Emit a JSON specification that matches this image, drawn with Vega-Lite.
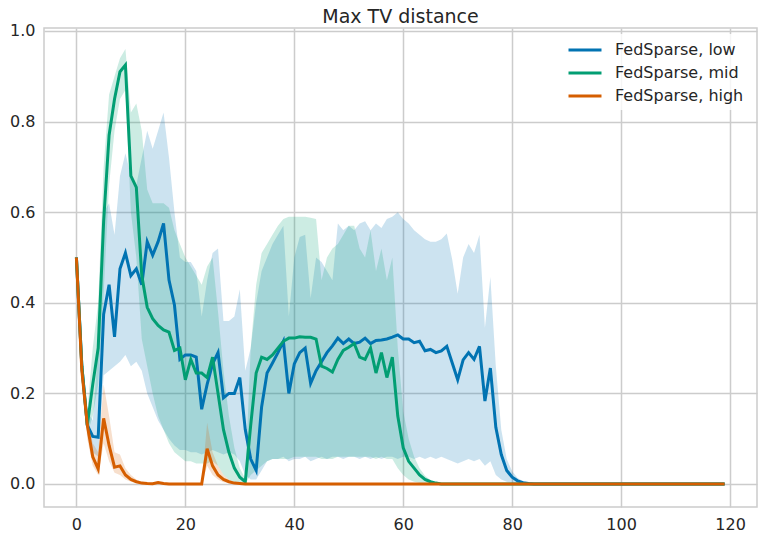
{
"$schema": "https://vega.github.io/schema/vega-lite/v6.json",
"width": 713, "height": 479,
"autosize": "none",
"padding": {"left": 44, "top": 28, "right": 8, "bottom": 32},
"background": "white",
"title": {"text": "Max TV distance", "fontSize": 19, "font": "DejaVu Sans", "fontWeight": "normal", "color": "#262626", "offset": 6, "dy": 10},
"config": {
  "font": "DejaVu Sans",
  "view": {"stroke": "#cccccc", "strokeWidth": 1.5},
  "axis": {"grid": true, "gridColor": "#cccccc", "gridWidth": 1.5, "domain": false, "ticks": false, "labelFontSize": 16, "labelColor": "#262626", "labelPadding": 9, "title": null, "labelFont": "DejaVu Sans"}
},
"data": {"values": [
{"x":0,"lm":0.5,"ll":0.5,"lh":0.5,"mm":0.5,"ml":0.5,"mh":0.5,"hm":0.5,"hl":0.5,"hh":0.5},
{"x":1,"lm":0.26,"ll":0.24,"lh":0.28,"mm":0.26,"ml":0.24,"mh":0.28,"hm":0.25,"hl":0.23,"hh":0.27},
{"x":2,"lm":0.13,"ll":0.11,"lh":0.16,"mm":0.13,"ml":0.11,"mh":0.16,"hm":0.13,"hl":0.1,"hh":0.15},
{"x":3,"lm":0.105,"ll":0.07,"lh":0.14,"mm":0.22,"ml":0.15,"mh":0.3,"hm":0.06,"hl":0.04,"hh":0.09},
{"x":4,"lm":0.103,"ll":0.06,"lh":0.3,"mm":0.3,"ml":0.22,"mh":0.4,"hm":0.033,"hl":0.02,"hh":0.07},
{"x":5,"lm":0.375,"ll":0.24,"lh":0.6,"mm":0.58,"ml":0.42,"mh":0.7,"hm":0.145,"hl":0.09,"hh":0.22},
{"x":6,"lm":0.44,"ll":0.25,"lh":0.62,"mm":0.77,"ml":0.66,"mh":0.86,"hm":0.085,"hl":0.05,"hh":0.15},
{"x":7,"lm":0.325,"ll":0.26,"lh":0.55,"mm":0.85,"ml":0.78,"mh":0.9,"hm":0.037,"hl":0.025,"hh":0.07},
{"x":8,"lm":0.475,"ll":0.27,"lh":0.68,"mm":0.91,"ml":0.85,"mh":0.94,"hm":0.04,"hl":0.02,"hh":0.065},
{"x":9,"lm":0.51,"ll":0.285,"lh":0.73,"mm":0.925,"ml":0.87,"mh":0.96,"hm":0.02,"hl":0.01,"hh":0.035},
{"x":10,"lm":0.46,"ll":0.26,"lh":0.68,"mm":0.68,"ml":0.6,"mh":0.82,"hm":0.01,"hl":0.005,"hh":0.02},
{"x":11,"lm":0.475,"ll":0.27,"lh":0.66,"mm":0.655,"ml":0.5,"mh":0.84,"hm":0.005,"hl":0.002,"hh":0.01},
{"x":12,"lm":0.44,"ll":0.25,"lh":0.72,"mm":0.46,"ml":0.32,"mh":0.78,"hm":0.002,"hl":0.001,"hh":0.005},
{"x":13,"lm":0.535,"ll":0.2,"lh":0.78,"mm":0.39,"ml":0.26,"mh":0.65,"hm":0.001,"hl":0,"hh":0.002},
{"x":14,"lm":0.505,"ll":0.17,"lh":0.74,"mm":0.365,"ml":0.2,"mh":0.62,"hm":0.0005,"hl":0,"hh":0.001},
{"x":15,"lm":0.535,"ll":0.14,"lh":0.78,"mm":0.35,"ml":0.15,"mh":0.62,"hm":0.003,"hl":0,"hh":0.006},
{"x":16,"lm":0.575,"ll":0.12,"lh":0.82,"mm":0.34,"ml":0.12,"mh":0.62,"hm":0.001,"hl":0,"hh":0.002},
{"x":17,"lm":0.45,"ll":0.1,"lh":0.72,"mm":0.335,"ml":0.09,"mh":0.61,"hm":0,"hl":0,"hh":0},
{"x":18,"lm":0.395,"ll":0.085,"lh":0.6,"mm":0.295,"ml":0.07,"mh":0.56,"hm":0,"hl":0,"hh":0},
{"x":19,"lm":0.275,"ll":0.075,"lh":0.5,"mm":0.3,"ml":0.06,"mh":0.53,"hm":0,"hl":0,"hh":0},
{"x":20,"lm":0.285,"ll":0.075,"lh":0.49,"mm":0.23,"ml":0.05,"mh":0.5,"hm":0,"hl":0,"hh":0},
{"x":21,"lm":0.285,"ll":0.07,"lh":0.49,"mm":0.275,"ml":0.05,"mh":0.48,"hm":0,"hl":0,"hh":0},
{"x":22,"lm":0.28,"ll":0.07,"lh":0.47,"mm":0.245,"ml":0.045,"mh":0.46,"hm":0,"hl":0,"hh":0},
{"x":23,"lm":0.165,"ll":0.065,"lh":0.37,"mm":0.245,"ml":0.045,"mh":0.44,"hm":0,"hl":0,"hh":0},
{"x":24,"lm":0.22,"ll":0.07,"lh":0.45,"mm":0.235,"ml":0.045,"mh":0.48,"hm":0.078,"hl":0.04,"hh":0.135},
{"x":25,"lm":0.265,"ll":0.075,"lh":0.51,"mm":0.28,"ml":0.05,"mh":0.5,"hm":0.04,"hl":0.02,"hh":0.07},
{"x":26,"lm":0.29,"ll":0.07,"lh":0.52,"mm":0.2,"ml":0.04,"mh":0.38,"hm":0.02,"hl":0.01,"hh":0.04},
{"x":27,"lm":0.19,"ll":0.065,"lh":0.36,"mm":0.12,"ml":0.02,"mh":0.25,"hm":0.01,"hl":0.004,"hh":0.02},
{"x":28,"lm":0.2,"ll":0.07,"lh":0.36,"mm":0.07,"ml":0.01,"mh":0.15,"hm":0.005,"hl":0.002,"hh":0.01},
{"x":29,"lm":0.2,"ll":0.065,"lh":0.37,"mm":0.035,"ml":0.004,"mh":0.08,"hm":0.002,"hl":0,"hh":0.004},
{"x":30,"lm":0.235,"ll":0.05,"lh":0.43,"mm":0.015,"ml":0.001,"mh":0.035,"hm":0.001,"hl":0,"hh":0.002},
{"x":31,"lm":0.12,"ll":0.02,"lh":0.25,"mm":0.005,"ml":0,"mh":0.012,"hm":0,"hl":0,"hh":0},
{"x":32,"lm":0.055,"ll":0.01,"lh":0.3,"mm":0.13,"ml":0.02,"mh":0.3,"hm":0,"hl":0,"hh":0},
{"x":33,"lm":0.03,"ll":0.01,"lh":0.4,"mm":0.245,"ml":0.03,"mh":0.44,"hm":0,"hl":0,"hh":0},
{"x":34,"lm":0.17,"ll":0.03,"lh":0.47,"mm":0.28,"ml":0.04,"mh":0.51,"hm":0,"hl":0,"hh":0},
{"x":35,"lm":0.245,"ll":0.05,"lh":0.5,"mm":0.275,"ml":0.05,"mh":0.53,"hm":0,"hl":0,"hh":0},
{"x":36,"lm":0.267,"ll":0.055,"lh":0.53,"mm":0.285,"ml":0.055,"mh":0.55,"hm":0,"hl":0,"hh":0},
{"x":37,"lm":0.29,"ll":0.055,"lh":0.55,"mm":0.3,"ml":0.055,"mh":0.57,"hm":0,"hl":0,"hh":0},
{"x":38,"lm":0.315,"ll":0.06,"lh":0.57,"mm":0.315,"ml":0.055,"mh":0.585,"hm":0,"hl":0,"hh":0},
{"x":39,"lm":0.2,"ll":0.05,"lh":0.37,"mm":0.322,"ml":0.055,"mh":0.59,"hm":0,"hl":0,"hh":0},
{"x":40,"lm":0.265,"ll":0.055,"lh":0.5,"mm":0.322,"ml":0.06,"mh":0.59,"hm":0,"hl":0,"hh":0},
{"x":41,"lm":0.29,"ll":0.055,"lh":0.545,"mm":0.325,"ml":0.06,"mh":0.59,"hm":0,"hl":0,"hh":0},
{"x":42,"lm":0.3,"ll":0.06,"lh":0.55,"mm":0.324,"ml":0.06,"mh":0.59,"hm":0,"hl":0,"hh":0},
{"x":43,"lm":0.222,"ll":0.05,"lh":0.41,"mm":0.324,"ml":0.06,"mh":0.588,"hm":0,"hl":0,"hh":0},
{"x":44,"lm":0.25,"ll":0.055,"lh":0.5,"mm":0.32,"ml":0.06,"mh":0.585,"hm":0,"hl":0,"hh":0},
{"x":45,"lm":0.27,"ll":0.06,"lh":0.49,"mm":0.26,"ml":0.055,"mh":0.45,"hm":0,"hl":0,"hh":0},
{"x":46,"lm":0.29,"ll":0.055,"lh":0.47,"mm":0.255,"ml":0.055,"mh":0.5,"hm":0,"hl":0,"hh":0},
{"x":47,"lm":0.305,"ll":0.06,"lh":0.45,"mm":0.247,"ml":0.055,"mh":0.52,"hm":0,"hl":0,"hh":0},
{"x":48,"lm":0.322,"ll":0.06,"lh":0.575,"mm":0.275,"ml":0.06,"mh":0.53,"hm":0,"hl":0,"hh":0},
{"x":49,"lm":0.31,"ll":0.055,"lh":0.56,"mm":0.295,"ml":0.06,"mh":0.55,"hm":0,"hl":0,"hh":0},
{"x":50,"lm":0.32,"ll":0.06,"lh":0.57,"mm":0.302,"ml":0.06,"mh":0.57,"hm":0,"hl":0,"hh":0},
{"x":51,"lm":0.31,"ll":0.06,"lh":0.56,"mm":0.31,"ml":0.06,"mh":0.57,"hm":0,"hl":0,"hh":0},
{"x":52,"lm":0.313,"ll":0.055,"lh":0.575,"mm":0.28,"ml":0.06,"mh":0.52,"hm":0,"hl":0,"hh":0},
{"x":53,"lm":0.322,"ll":0.06,"lh":0.58,"mm":0.275,"ml":0.06,"mh":0.5,"hm":0,"hl":0,"hh":0},
{"x":54,"lm":0.31,"ll":0.055,"lh":0.56,"mm":0.3,"ml":0.06,"mh":0.56,"hm":0,"hl":0,"hh":0},
{"x":55,"lm":0.317,"ll":0.06,"lh":0.575,"mm":0.245,"ml":0.055,"mh":0.47,"hm":0,"hl":0,"hh":0},
{"x":56,"lm":0.318,"ll":0.055,"lh":0.565,"mm":0.29,"ml":0.06,"mh":0.52,"hm":0,"hl":0,"hh":0},
{"x":57,"lm":0.32,"ll":0.06,"lh":0.585,"mm":0.235,"ml":0.055,"mh":0.45,"hm":0,"hl":0,"hh":0},
{"x":58,"lm":0.324,"ll":0.06,"lh":0.59,"mm":0.28,"ml":0.055,"mh":0.5,"hm":0,"hl":0,"hh":0},
{"x":59,"lm":0.329,"ll":0.055,"lh":0.6,"mm":0.15,"ml":0.035,"mh":0.3,"hm":0,"hl":0,"hh":0},
{"x":60,"lm":0.32,"ll":0.06,"lh":0.585,"mm":0.08,"ml":0.02,"mh":0.16,"hm":0,"hl":0,"hh":0},
{"x":61,"lm":0.32,"ll":0.06,"lh":0.575,"mm":0.05,"ml":0.01,"mh":0.1,"hm":0,"hl":0,"hh":0},
{"x":62,"lm":0.312,"ll":0.055,"lh":0.56,"mm":0.035,"ml":0.005,"mh":0.06,"hm":0,"hl":0,"hh":0},
{"x":63,"lm":0.315,"ll":0.06,"lh":0.55,"mm":0.02,"ml":0.002,"mh":0.035,"hm":0,"hl":0,"hh":0},
{"x":64,"lm":0.294,"ll":0.055,"lh":0.54,"mm":0.01,"ml":0.001,"mh":0.018,"hm":0,"hl":0,"hh":0},
{"x":65,"lm":0.297,"ll":0.06,"lh":0.535,"mm":0.005,"ml":0,"mh":0.009,"hm":0,"hl":0,"hh":0},
{"x":66,"lm":0.29,"ll":0.055,"lh":0.535,"mm":0.002,"ml":0,"mh":0.004,"hm":0,"hl":0,"hh":0},
{"x":67,"lm":0.294,"ll":0.06,"lh":0.54,"mm":0,"ml":0,"mh":0,"hm":0,"hl":0,"hh":0},
{"x":68,"lm":0.304,"ll":0.055,"lh":0.553,"mm":0,"ml":0,"mh":0,"hm":0,"hl":0,"hh":0},
{"x":69,"lm":0.267,"ll":0.05,"lh":0.495,"mm":0,"ml":0,"mh":0,"hm":0,"hl":0,"hh":0},
{"x":70,"lm":0.23,"ll":0.045,"lh":0.42,"mm":0,"ml":0,"mh":0,"hm":0,"hl":0,"hh":0},
{"x":71,"lm":0.274,"ll":0.05,"lh":0.5,"mm":0,"ml":0,"mh":0,"hm":0,"hl":0,"hh":0},
{"x":72,"lm":0.29,"ll":0.055,"lh":0.53,"mm":0,"ml":0,"mh":0,"hm":0,"hl":0,"hh":0},
{"x":73,"lm":0.275,"ll":0.05,"lh":0.51,"mm":0,"ml":0,"mh":0,"hm":0,"hl":0,"hh":0},
{"x":74,"lm":0.304,"ll":0.055,"lh":0.55,"mm":0,"ml":0,"mh":0,"hm":0,"hl":0,"hh":0},
{"x":75,"lm":0.183,"ll":0.04,"lh":0.345,"mm":0,"ml":0,"mh":0,"hm":0,"hl":0,"hh":0},
{"x":76,"lm":0.256,"ll":0.05,"lh":0.457,"mm":0,"ml":0,"mh":0,"hm":0,"hl":0,"hh":0},
{"x":77,"lm":0.125,"ll":0.02,"lh":0.26,"mm":0,"ml":0,"mh":0,"hm":0,"hl":0,"hh":0},
{"x":78,"lm":0.065,"ll":0.01,"lh":0.12,"mm":0,"ml":0,"mh":0,"hm":0,"hl":0,"hh":0},
{"x":79,"lm":0.03,"ll":0.005,"lh":0.055,"mm":0,"ml":0,"mh":0,"hm":0,"hl":0,"hh":0},
{"x":80,"lm":0.015,"ll":0.002,"lh":0.028,"mm":0,"ml":0,"mh":0,"hm":0,"hl":0,"hh":0},
{"x":81,"lm":0.007,"ll":0.001,"lh":0.013,"mm":0,"ml":0,"mh":0,"hm":0,"hl":0,"hh":0},
{"x":82,"lm":0.003,"ll":0,"lh":0.006,"mm":0,"ml":0,"mh":0,"hm":0,"hl":0,"hh":0},
{"x":83,"lm":0.001,"ll":0,"lh":0.002,"mm":0,"ml":0,"mh":0,"hm":0,"hl":0,"hh":0},
{"x":84,"lm":0,"ll":0,"lh":0,"mm":0,"ml":0,"mh":0,"hm":0,"hl":0,"hh":0},
{"x":85,"lm":0,"ll":0,"lh":0,"mm":0,"ml":0,"mh":0,"hm":0,"hl":0,"hh":0},
{"x":86,"lm":0,"ll":0,"lh":0,"mm":0,"ml":0,"mh":0,"hm":0,"hl":0,"hh":0},
{"x":87,"lm":0,"ll":0,"lh":0,"mm":0,"ml":0,"mh":0,"hm":0,"hl":0,"hh":0},
{"x":88,"lm":0,"ll":0,"lh":0,"mm":0,"ml":0,"mh":0,"hm":0,"hl":0,"hh":0},
{"x":89,"lm":0,"ll":0,"lh":0,"mm":0,"ml":0,"mh":0,"hm":0,"hl":0,"hh":0},
{"x":90,"lm":0,"ll":0,"lh":0,"mm":0,"ml":0,"mh":0,"hm":0,"hl":0,"hh":0},
{"x":91,"lm":0,"ll":0,"lh":0,"mm":0,"ml":0,"mh":0,"hm":0,"hl":0,"hh":0},
{"x":92,"lm":0,"ll":0,"lh":0,"mm":0,"ml":0,"mh":0,"hm":0,"hl":0,"hh":0},
{"x":93,"lm":0,"ll":0,"lh":0,"mm":0,"ml":0,"mh":0,"hm":0,"hl":0,"hh":0},
{"x":94,"lm":0,"ll":0,"lh":0,"mm":0,"ml":0,"mh":0,"hm":0,"hl":0,"hh":0},
{"x":95,"lm":0,"ll":0,"lh":0,"mm":0,"ml":0,"mh":0,"hm":0,"hl":0,"hh":0},
{"x":96,"lm":0,"ll":0,"lh":0,"mm":0,"ml":0,"mh":0,"hm":0,"hl":0,"hh":0},
{"x":97,"lm":0,"ll":0,"lh":0,"mm":0,"ml":0,"mh":0,"hm":0,"hl":0,"hh":0},
{"x":98,"lm":0,"ll":0,"lh":0,"mm":0,"ml":0,"mh":0,"hm":0,"hl":0,"hh":0},
{"x":99,"lm":0,"ll":0,"lh":0,"mm":0,"ml":0,"mh":0,"hm":0,"hl":0,"hh":0},
{"x":100,"lm":0,"ll":0,"lh":0,"mm":0,"ml":0,"mh":0,"hm":0,"hl":0,"hh":0},
{"x":101,"lm":0,"ll":0,"lh":0,"mm":0,"ml":0,"mh":0,"hm":0,"hl":0,"hh":0},
{"x":102,"lm":0,"ll":0,"lh":0,"mm":0,"ml":0,"mh":0,"hm":0,"hl":0,"hh":0},
{"x":103,"lm":0,"ll":0,"lh":0,"mm":0,"ml":0,"mh":0,"hm":0,"hl":0,"hh":0},
{"x":104,"lm":0,"ll":0,"lh":0,"mm":0,"ml":0,"mh":0,"hm":0,"hl":0,"hh":0},
{"x":105,"lm":0,"ll":0,"lh":0,"mm":0,"ml":0,"mh":0,"hm":0,"hl":0,"hh":0},
{"x":106,"lm":0,"ll":0,"lh":0,"mm":0,"ml":0,"mh":0,"hm":0,"hl":0,"hh":0},
{"x":107,"lm":0,"ll":0,"lh":0,"mm":0,"ml":0,"mh":0,"hm":0,"hl":0,"hh":0},
{"x":108,"lm":0,"ll":0,"lh":0,"mm":0,"ml":0,"mh":0,"hm":0,"hl":0,"hh":0},
{"x":109,"lm":0,"ll":0,"lh":0,"mm":0,"ml":0,"mh":0,"hm":0,"hl":0,"hh":0},
{"x":110,"lm":0,"ll":0,"lh":0,"mm":0,"ml":0,"mh":0,"hm":0,"hl":0,"hh":0},
{"x":111,"lm":0,"ll":0,"lh":0,"mm":0,"ml":0,"mh":0,"hm":0,"hl":0,"hh":0},
{"x":112,"lm":0,"ll":0,"lh":0,"mm":0,"ml":0,"mh":0,"hm":0,"hl":0,"hh":0},
{"x":113,"lm":0,"ll":0,"lh":0,"mm":0,"ml":0,"mh":0,"hm":0,"hl":0,"hh":0},
{"x":114,"lm":0,"ll":0,"lh":0,"mm":0,"ml":0,"mh":0,"hm":0,"hl":0,"hh":0},
{"x":115,"lm":0,"ll":0,"lh":0,"mm":0,"ml":0,"mh":0,"hm":0,"hl":0,"hh":0},
{"x":116,"lm":0,"ll":0,"lh":0,"mm":0,"ml":0,"mh":0,"hm":0,"hl":0,"hh":0},
{"x":117,"lm":0,"ll":0,"lh":0,"mm":0,"ml":0,"mh":0,"hm":0,"hl":0,"hh":0},
{"x":118,"lm":0,"ll":0,"lh":0,"mm":0,"ml":0,"mh":0,"hm":0,"hl":0,"hh":0},
{"x":119,"lm":0,"ll":0,"lh":0,"mm":0,"ml":0,"mh":0,"hm":0,"hl":0,"hh":0}
]},
"encoding": {
  "x": {"field": "x", "type": "quantitative", "scale": {"domain": [-5.95, 124.95], "nice": false, "zero": false}, "axis": {"values": [0, 20, 40, 60, 80, 100, 120], "title": null}}
},
"layer": [
  {"mark": {"type": "area", "color": "#0173b2", "opacity": 0.2}, "encoding": {"y": {"field": "ll", "type": "quantitative", "scale": {"domain": [-0.0508, 1.0066], "nice": false, "zero": false}, "axis": {"values": [0, 0.2, 0.4, 0.6, 0.8, 1.0], "format": ".1f", "title": null}}, "y2": {"field": "lh"}}},
  {"mark": {"type": "area", "color": "#029e73", "opacity": 0.2}, "encoding": {"y": {"field": "ml", "type": "quantitative", "title": null}, "y2": {"field": "mh"}}},
  {"mark": {"type": "area", "color": "#d55e00", "opacity": 0.2}, "encoding": {"y": {"field": "hl", "type": "quantitative", "title": null}, "y2": {"field": "hh"}}},
  {"mark": {"type": "line", "strokeWidth": 3}, "encoding": {"y": {"field": "lm", "type": "quantitative", "title": null}, "color": {"datum": "FedSparse, low", "scale": {"domain": ["FedSparse, low", "FedSparse, mid", "FedSparse, high"], "range": ["#0173b2", "#029e73", "#d55e00"]}, "legend": {"title": null, "orient": "none", "legendX": 525, "legendY": 6, "symbolType": "M-2,0H2", "symbolSize": 272, "symbolStrokeWidth": 3, "labelFontSize": 16, "labelColor": "#262626", "labelOffset": 20, "rowPadding": 5, "padding": 6, "fillColor": "rgba(255,255,255,0.8)", "labelFont": "DejaVu Sans"}}}},
  {"mark": {"type": "line", "strokeWidth": 3}, "encoding": {"y": {"field": "mm", "type": "quantitative", "title": null}, "color": {"datum": "FedSparse, mid"}}},
  {"mark": {"type": "line", "strokeWidth": 3}, "encoding": {"y": {"field": "hm", "type": "quantitative", "title": null}, "color": {"datum": "FedSparse, high"}}}
]
}
